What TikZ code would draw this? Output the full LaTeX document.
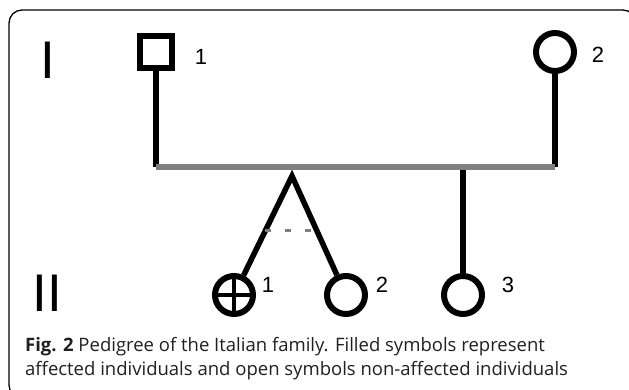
\documentclass[tikz,border=0pt]{standalone}
\usepackage{fontspec}
\newfontfamily\labelfont{Liberation Sans}
\newfontfamily\captionfont{Open Sans}
\usetikzlibrary{calc}
\definecolor{lineGray}{RGB}{128,128,128}
\definecolor{captionGray}{RGB}{35,31,32}
\begin{document}
\begin{tikzpicture}
[x=1pt,y=-1pt,
  lineDecorate/.style={-,line width=5.5pt},%
  maleDecorate/.style={shape=rectangle,minimum size=32pt,inner sep=0pt,draw,line width=6pt},%
  femaleDecorate/.style={shape=circle,minimum size=38pt,inner sep=0pt,draw,line width=6pt},%
  numberDecorate/.style={font=\labelfont\fontsize{22}{22}\selectfont,inner sep=0pt},%
  genDecorate/.style={font=\labelfont\fontsize{53}{53}\selectfont,inner sep=0pt},%
  captionDecorate/.style={anchor=base west,inner sep=0pt,text=captionGray,
    font=\captionfont\fontsize{18.5}{24}\selectfont}]
\useasboundingbox (0,0) rectangle (629,390);
\clip (0,0) rectangle (629,390);
%% frame
\draw[line width=1.3pt,rounded corners=13pt] (9,10) rectangle (636,398);
%% generations
\node (genI) at (48,60) [genDecorate] {I};
\node (genII) at (47,293) [genDecorate] {II};
%% individuals and their numbers
\foreach \nodename/\x/\y/\shape/\num/\nx/\ny in {
  f1/156/52/maleDecorate/1/201/57, m2/555/52/femaleDecorate/2/598/55,
  c1/234/295/femaleDecorate/1/268/285, c2/346/295/femaleDecorate/2/382/285,
  c3/463/295/femaleDecorate/3/508/285}
{
  \node (\nodename) at (\x,\y) [\shape] {};
  \node (\nodename-num) at (\nx,\ny) [numberDecorate] {\num};
}
%% affected mark
\draw[line width=4pt] (c1.north) -- (c1.south) (c1.west) -- (c1.east);
%% lines of descent
\coordinate (fJoin) at (156,167);
\coordinate (mJoin) at (555,167);
\coordinate (twinTop) at (292,176);
\coordinate (sibTop) at (463,167);
\path
\foreach \startnode/\endnode in {f1/fJoin, m2/mJoin, sibTop/c3}
{
  (\startnode) edge[lineDecorate] (\endnode)
};
\draw[lineDecorate,line join=miter] (c1) -- (twinTop) -- (c2);
\draw[lineGray,line width=6pt] (fJoin) -- (mJoin);
\draw[lineGray,line width=3.5pt,dash pattern=on 6pt off 14pt]
  ($(twinTop)!.46!(c1)$) -- ($(twinTop)!.46!(c2)$);
%% caption
\node (caption1) at (25,351) [captionDecorate]
  {\textbf{Fig. 2} Pedigree of the Italian family. Filled symbols represent};
\node (caption2) at (25,375) [captionDecorate]
  {affected individuals and open symbols non-affected individuals};
\end{tikzpicture}
\end{document}
